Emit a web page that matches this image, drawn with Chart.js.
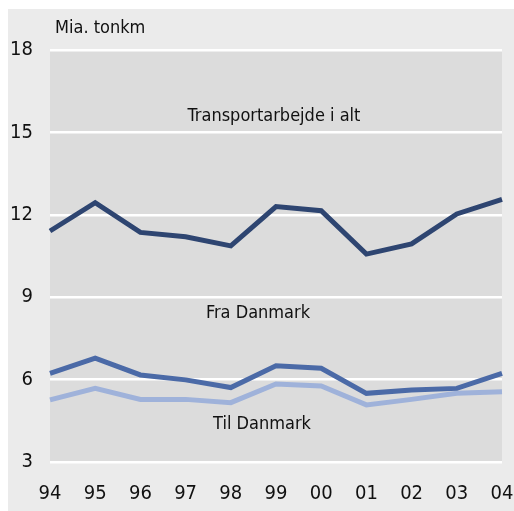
<!DOCTYPE html>
<html><head><meta charset="utf-8">
<script src="https://cdn.jsdelivr.net/npm/chart.js@4"></script>
<style>
html,body{margin:0;padding:0;background:#fff;}
#box{position:absolute;left:8px;top:9px;width:506px;height:502px;background:#ebebeb;}
canvas{display:block;}
</style></head>
<body>
<div id="box"><canvas id="c" width="506" height="502"></canvas></div>
<script>
const years = ['94','95','96','97','98','99','00','01','02','03','04'];
const transportIAlt = [11.41,12.44,11.36,11.2,10.87,12.3,12.15,10.57,10.94,12.03,12.56];
const fraDanmark = [6.23,6.78,6.17,5.99,5.71,6.5,6.41,5.5,5.62,5.68,6.23];
const tilDanmark = [5.26,5.68,5.28,5.28,5.16,5.84,5.77,5.08,5.28,5.5,5.56];
const yTicks = [3,6,9,12,15,18];
const seriesNames = ['Transportarbejde i alt','Fra Danmark','Til Danmark'];
const unitLabel = 'Mia. tonkm';

const FONT = "'Liberation Sans Narrow','DejaVu Sans Condensed',sans-serif";

const bgPlugin = {
  id:'bg',
  beforeDraw(chart){
    const {ctx, chartArea:a} = chart;
    ctx.save();
    ctx.fillStyle = '#dcdcdc';
    ctx.fillRect(a.left, a.top, a.right-a.left, a.bottom-a.top);
    ctx.restore();
  },
  afterDraw(chart){
    const {ctx, chartArea:a, scales} = chart;
    const y = scales.y;
    ctx.save();
    ctx.fillStyle = '#111';
    ctx.font = '18px ' + FONT;
    ctx.textBaseline = 'middle';
    ctx.textAlign = 'left';
    ctx.fillText(unitLabel, a.left + 5, a.top - 22);
    ctx.textAlign = 'center';
    const cx = (a.left + a.right)/2;
    ctx.fillText(seriesNames[0], cx - 2, y.getPixelForValue(15) - 16);
    ctx.fillText(seriesNames[1], cx - 18, y.getPixelForValue(9) + 16);
    ctx.fillText(seriesNames[2], cx - 14, y.getPixelForValue(6) + 45);
    ctx.restore();
  }
};

new Chart(document.getElementById('c'), {
  type:'line',
  data:{
    labels: years,
    datasets:[
      {label:seriesNames[0], data:transportIAlt, borderColor:'#2e4571', borderWidth:5},
      {label:seriesNames[1], data:fraDanmark, borderColor:'#4b6aa7', borderWidth:5},
      {label:seriesNames[2], data:tilDanmark, borderColor:'#9fb2da', borderWidth:5}
    ]
  },
  options:{
    responsive:false,
    animation:false,
    devicePixelRatio:1,
    layout:{padding:{left:0,right:12,top:41,bottom:0}},
    elements:{point:{radius:0}, line:{tension:0, borderCapStyle:'butt', borderJoinStyle:'miter'}},
    plugins:{legend:{display:false}, tooltip:{enabled:false}},
    scales:{
      x:{
        offset:false,
        grid:{display:false, drawTicks:false},
        border:{display:false},
        ticks:{color:'#111', font:{family:FONT, size:20}, padding:20, maxRotation:0, autoSkip:false},
        afterFit(s){ s.height = 49; s.paddingLeft = 0; s.paddingRight = 0; }
      },
      y:{
        min:3, max:18,
        afterBuildTicks(s){ s.ticks = yTicks.map(v=>({value:v})); },
        grid:{color:'#ffffff', lineWidth:2.5, drawTicks:false},
        border:{display:false},
        ticks:{color:'#111', font:{family:FONT, size:20}, padding:17},
        afterFit(s){ s.width = 42; s.paddingTop = 0; s.paddingBottom = 0; }
      }
    }
  },
  plugins:[bgPlugin]
});
</script>
</body></html>
